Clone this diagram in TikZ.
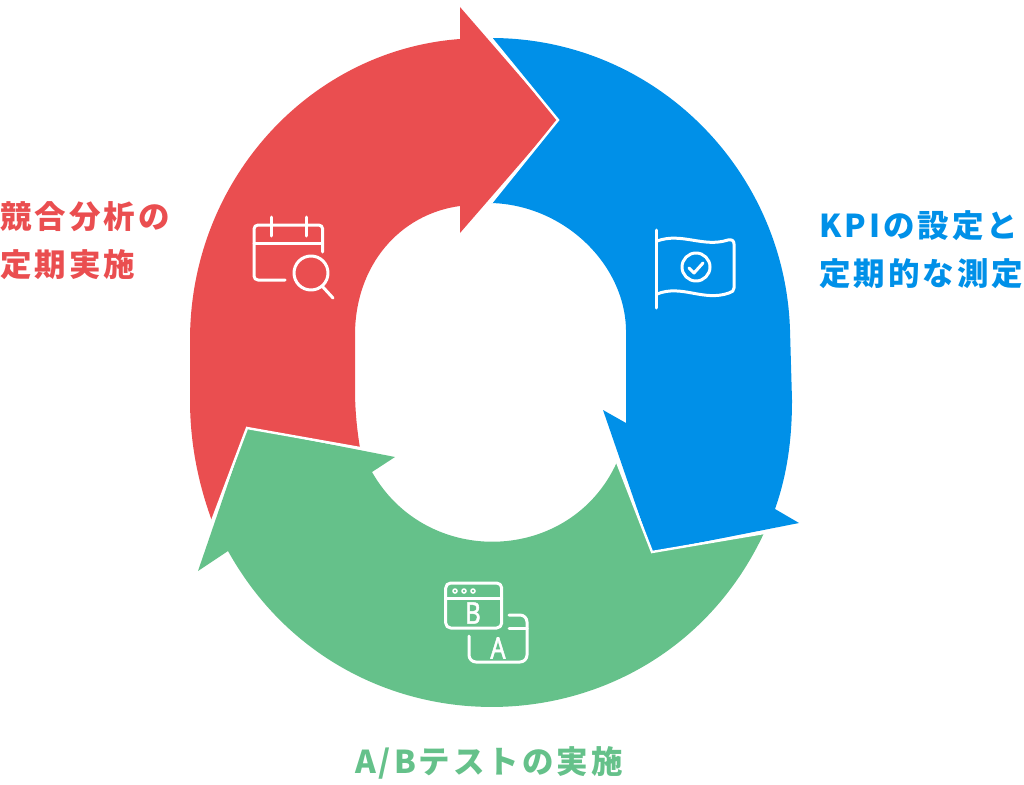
\documentclass[tikz,border=0pt]{standalone}
\usepackage{fontspec}
\newfontfamily\cjk{Noto Sans CJK JP}
\newfontfamily\cjkspaced[LetterSpace=9.5]{Noto Sans CJK JP}
\newfontfamily\iconfont[FakeBold=1.5,FakeStretch=0.8]{Noto Sans}
\definecolor{redarrow}{HTML}{EA4E50}
\definecolor{bluearrow}{HTML}{0090E8}
\definecolor{greenarrow}{HTML}{65C18A}
\tikzset{
    headedge/.style={white, line width=2.4pt, line join=miter},
    icon/.style={white, line width=3pt, line cap=round, line join=round},
    iconletter/.style={white, inner sep=0pt, font=\iconfont\fontsize{30}{30}\selectfont},
    steplabel/.style={anchor=west, inner sep=0pt, align=left, font=\cjkspaced\bfseries\fontsize{31.5}{48}\selectfont}
}

\begin{document}
\begin{tikzpicture}[x=1pt,y=-1pt]
    \useasboundingbox (0,0) rectangle (1024,784);
    \coordinate (redtip) at (558,120);
    \coordinate (redtop) at (460,7);
    \coordinate (redbot) at (460,233);
    \coordinate (bluetip) at (799,523);
    \coordinate (bluecorner) at (652,552);
    \coordinate (blueback) at (603,410);
    \coordinate (greentip) at (198,571);
    \coordinate (greencorner) at (247,428);
    \coordinate (greenback) at (395,457);
    % arrows
    \fill[redarrow] (redtop) -- (redtip) -- (redbot) -- (460,206)
        .. controls (400,214) and (355,265) .. (355,335) -- (355,390)
        .. controls (355,410) and (357,430) .. (360,448) -- (greencorner) -- (212,521)
        .. controls (197,480) and (190,440) .. (190,400) -- (190,340)
        .. controls (190,180) and (310,50) .. (460,39) -- cycle;
    \fill[bluearrow] (491,38)
        .. controls (655,38) and (785,170) .. (790,330) -- (792,400)
        .. controls (792,440) and (787,475) .. (775,509) -- (bluetip) -- (bluecorner) -- (blueback) -- (626,423)
        -- (626,330) .. controls (625,265) and (565,205) .. (491,203) -- (redtip) -- cycle;
    \fill[greenarrow] (greentip) -- (greencorner) -- (greenback) -- (372,472)
        .. controls (427,569) and (571,564) .. (617,462) -- (bluecorner) -- (764,533)
        .. controls (659.7,756.7) and (348,766.7) .. (228,551) -- cycle;
    \draw[headedge] (491,38) -- (redtip) -- (491,203);
    \draw[headedge] (764,533) -- (bluecorner) -- (617,462);
    \draw[headedge] (212,521) -- (greencorner) -- (360,448);
    % calendar
    \draw[icon] (322.7,252) -- (322.7,229) arc[start angle=0, end angle=-90, radius=4] -- (258,225)
        arc[start angle=-90, end angle=-180, radius=4] -- (254,276)
        arc[start angle=180, end angle=90, radius=4] -- (285,280);
    \draw[icon] (254,243) -- (322.7,243);
    \draw[icon] (271,217) -- (271,236);
    \draw[icon] (306,217) -- (306,236);
    \draw[icon] (311,273) circle[radius=17];
    \draw[icon] (322,286) -- (333,298);
    % flag
    \draw[icon] (656,230) -- (656,308);
    \draw[icon] (657,241) .. controls (682,232) and (703,248) .. (728,240)
        .. controls (732,239) and (734,241) .. (734,244) -- (734,288)
        .. controls (734,291) and (732,292) .. (729,293)
        .. controls (703,302) and (682,284) .. (657,294);
    \draw[icon] (696,267) circle[radius=14];
    \draw[icon] (689,268) -- (694,273) -- (703,263);
    % windows
    \draw[icon, rounded corners=5pt] (445.7,583) rectangle (501.7,628);
    \draw[icon] (445.7,598) -- (501.7,598);
    \foreach \dotx in {455,464,473}
        \draw[white, line width=1.5pt] (\dotx,591) circle[radius=2];
    \node[iconletter] (letterb) at (473,613) {B};
    \draw[icon, rounded corners=7pt] (509,615) -- (527,615) -- (527,662) -- (469,662) -- (469,636);
    \draw[icon] (509,628) -- (527,628);
    \node[iconletter] (lettera) at (498,648) {A};
    % labels
    \node[steplabel, text=redarrow] (redlabel) at (0,241) {競合分析の\\定期実施};
    \node[steplabel, text=bluearrow] (bluelabel) at (819,250) {KPIの設定と\\定期的な測定};
    \node[steplabel, text=greenarrow] (greenlabel) at (355,763) {A/Bテストの実施};
\end{tikzpicture}
\end{document}
